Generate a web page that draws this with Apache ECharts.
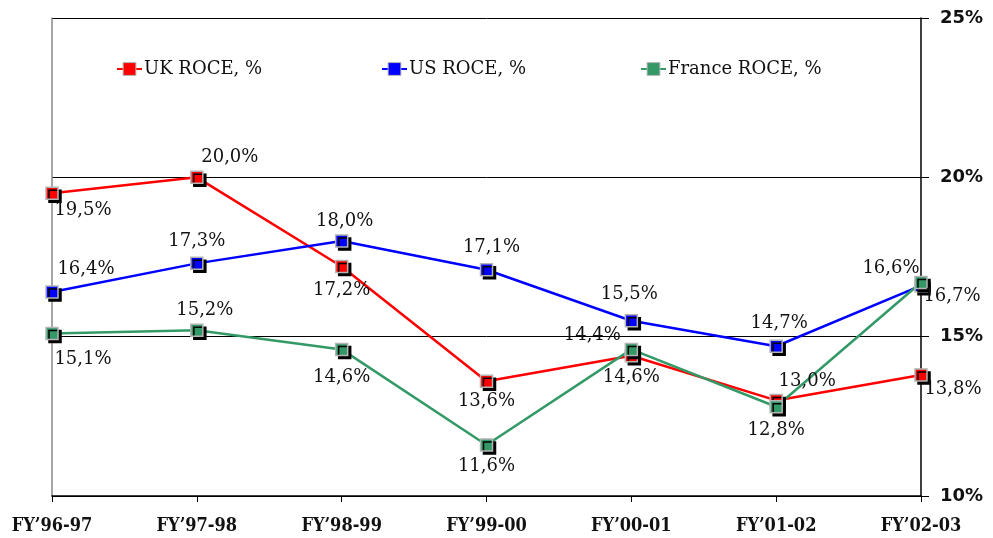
<!DOCTYPE html>
<html><head><meta charset="utf-8">
<script src="https://cdn.jsdelivr.net/npm/echarts@6/dist/echarts.min.js"></script>
<style>html,body{margin:0;padding:0;background:#fff}#c{width:993px;height:538px}</style>
</head><body><div id="c"></div>
<script>
const categories = ["FY\u201996-97","FY\u201997-98","FY\u201998-99","FY\u201999-00","FY\u201900-01","FY\u201901-02","FY\u201902-03"];
const ukROCE = [19.5, 20.0, 17.2, 13.6, 14.4, 13.0, 13.8];
const usROCE = [16.4, 17.3, 18.0, 17.1, 15.5, 14.7, 16.6];
const franceROCE = [15.1, 15.2, 14.6, 11.6, 14.6, 12.8, 16.7];
const seriesNames = ["UK ROCE, %", "US ROCE, %", "France ROCE, %"];
const yTicks = [10, 15, 20, 25];

// label offsets (styling)
const offUK = [[31,17],[33,-20],[0,24],[0,20],[-39,-20],[31,-19],[32,14]];
const offUS = [[34,-23],[0,-22],[3,-20],[5,-22],[-2,-26],[3,-23],[-30,-17]];
const offFR = [[31,26],[8,-20],[0,28],[0,21],[0,28],[0,24],[31,14]];

const fmt = v => v.toFixed(1).replace('.', ',') + '%';
const serifFont = '"DejaVu Serif"';

function mkSeries(name, vals, color, offs) {
  return {
    name: name, type: 'line', symbol: 'rect', symbolSize: 12,
    lineStyle: {color: color, width: 2.5},
    itemStyle: {color: color, borderColor: '#b4b4b4', borderWidth: 1.5,
      shadowColor: '#000', shadowBlur: 0, shadowOffsetX: 3, shadowOffsetY: 3},
    emphasis: {disabled: true},
    data: vals.map((v, i) => ({
      value: v,
      label: {show: true, position: 'inside', offset: offs[i], formatter: () => fmt(v),
        color: '#111', fontFamily: serifFont, fontSize: 18}
    }))
  };
}

const chart = echarts.init(document.getElementById('c'), null, {renderer: 'canvas'});
const legendCommon = {top: 55, itemWidth: 25, itemHeight: 16, itemGap: 0,
  itemStyle: {shadowBlur: 0, shadowOffsetX: 0, shadowOffsetY: 0, borderColor: '#b4b4b4', borderWidth: 1},
  textStyle: {fontFamily: serifFont, fontSize: 18, color: '#111', padding: [0,0,0,-3]}};
chart.setOption({
  animation: false,
  backgroundColor: '#fff',
  legend: [
    Object.assign({left: 111, data: [seriesNames[0]]}, legendCommon),
    Object.assign({left: 376, data: [seriesNames[1]]}, legendCommon),
    Object.assign({left: 635, data: [seriesNames[2]]}, legendCommon)
  ],
  grid: {left: 52, right: 72, top: 18, bottom: 42, containLabel: false},
  xAxis: {
    type: 'category', data: categories, boundaryGap: false,
    axisLine: {lineStyle: {color: '#000', width: 1.5}},
    axisTick: {show: true, length: 6, lineStyle: {color: '#000'}},
    axisLabel: {margin: 21, color: '#111', fontFamily: '"DejaVu Serif Condensed", "DejaVu Serif"', fontWeight: 'bold', fontSize: 18}
  },
  yAxis: [{
    type: 'value', position: 'right', min: yTicks[0], max: yTicks[yTicks.length-1], interval: 5,
    axisLine: {show: true, lineStyle: {color: '#000', width: 1.5}},
    axisTick: {show: true, length: 8, lineStyle: {color: '#000'}},
    axisLabel: {margin: 19, formatter: '{value}%', color: '#111', fontFamily: '"DejaVu Sans"', fontWeight: 'bold', fontSize: 18},
    splitLine: {show: true, lineStyle: {color: '#000', width: 1}}
  }, {
    type: 'value', position: 'left', min: yTicks[0], max: yTicks[yTicks.length-1], interval: 5,
    axisLine: {show: true, onZero: false, lineStyle: {color: '#888', width: 1.5}},
    axisTick: {show: false}, axisLabel: {show: false}, splitLine: {show: false}
  }],
  series: [
    mkSeries(seriesNames[0], ukROCE, '#ff0000', offUK),
    mkSeries(seriesNames[1], usROCE, '#0000ff', offUS),
    mkSeries(seriesNames[2], franceROCE, '#339966', offFR)
  ]
});
</script></body></html>
